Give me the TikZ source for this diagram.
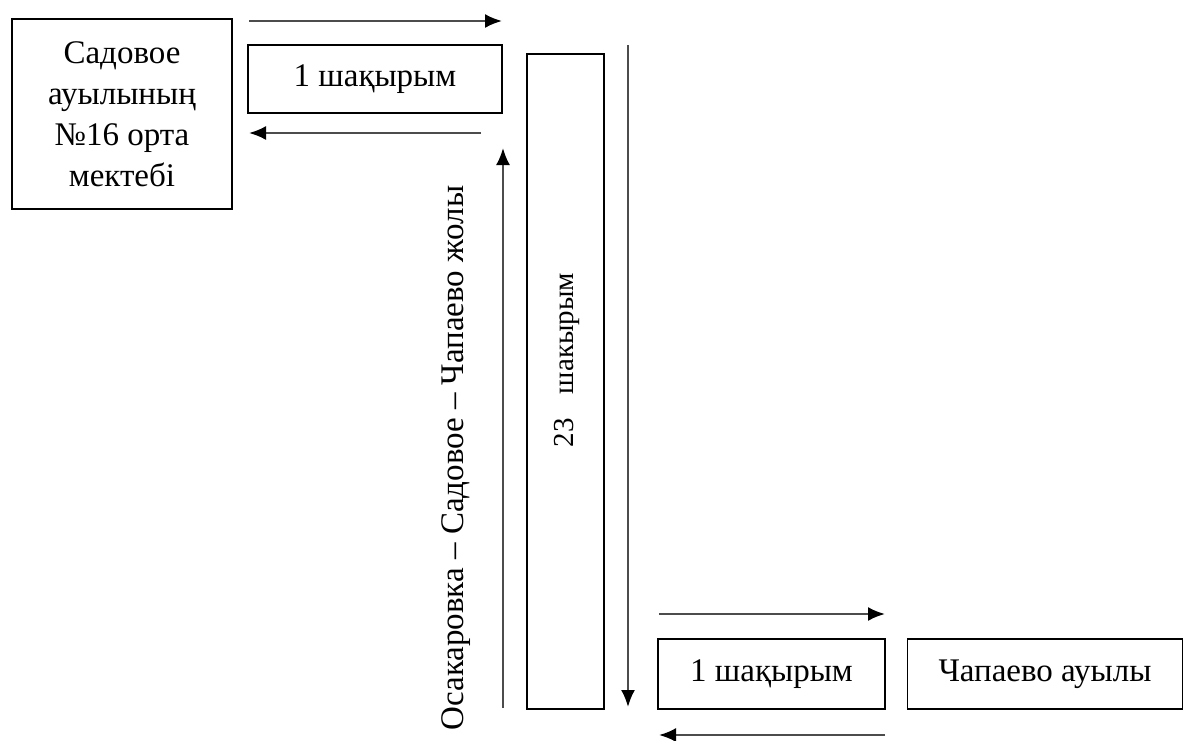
\documentclass[tikz,border=0pt]{standalone}
\usepackage{fontspec}
\setmainfont{Liberation Serif}
\usetikzlibrary{arrows.meta}

\begin{document}
\begin{tikzpicture}[x=1pt,y=-1pt,inner sep=0pt,>={Latex[length=17pt,width=14pt,color=black]},
  box/.style={draw,line width=1.6pt,align=center,font=\fontsize{33}{41}\selectfont},
  lbl/.style={font=\fontsize{33}{41}\selectfont},
  way/.style={->,line width=2.2pt,draw=black!70}]
\useasboundingbox (0,0) rectangle (1183,740);
% boxes
\draw node [box,minimum width=220pt,minimum height=190pt] (school) at (122,114) {Садовое\\ауылының\\№16 орта\\мектебі};
\draw node [box,minimum width=254pt,minimum height=68pt] (km1) at (375,79) {1 шақырым};
\draw node [box,minimum width=77pt,minimum height=655pt] (km23) at (565.5,381.5) {};
\draw node [lbl,font=\fontsize{29}{34}\selectfont,rotate=90] (km23lbl) at (567,360) {23\hspace{24pt}шакырым};
\draw node [lbl,rotate=90] (road) at (456,458) {Осакаровка – Садовое – Чапаево жолы};
\draw node [box,minimum width=227pt,minimum height=70pt] (km1b) at (771.5,674) {1 шақырым};
\draw node [box,minimum width=275pt,minimum height=70pt] (village) at (1045,674) {Чапаево ауылы};
% arrow ends
\coordinate (t1) at (249,21);  \coordinate (t2) at (502,21);
\coordinate (r1) at (481,133); \coordinate (r2) at (249,133);
\coordinate (u1) at (503,708); \coordinate (u2) at (503,148);
\coordinate (d1) at (628,45);  \coordinate (d2) at (628,707);
\coordinate (b1) at (659,614); \coordinate (b2) at (885,614);
\coordinate (c1) at (885,735); \coordinate (c2) at (659,735);
% arrows
\draw [way] (t1) -- (t2);
\draw [way] (r1) -- (r2);
\draw [way] (u1) -- (u2);
\draw [way] (d1) -- (d2);
\draw [way] (b1) -- (b2);
\draw [way] (c1) -- (c2);
\end{tikzpicture}
\end{document}
